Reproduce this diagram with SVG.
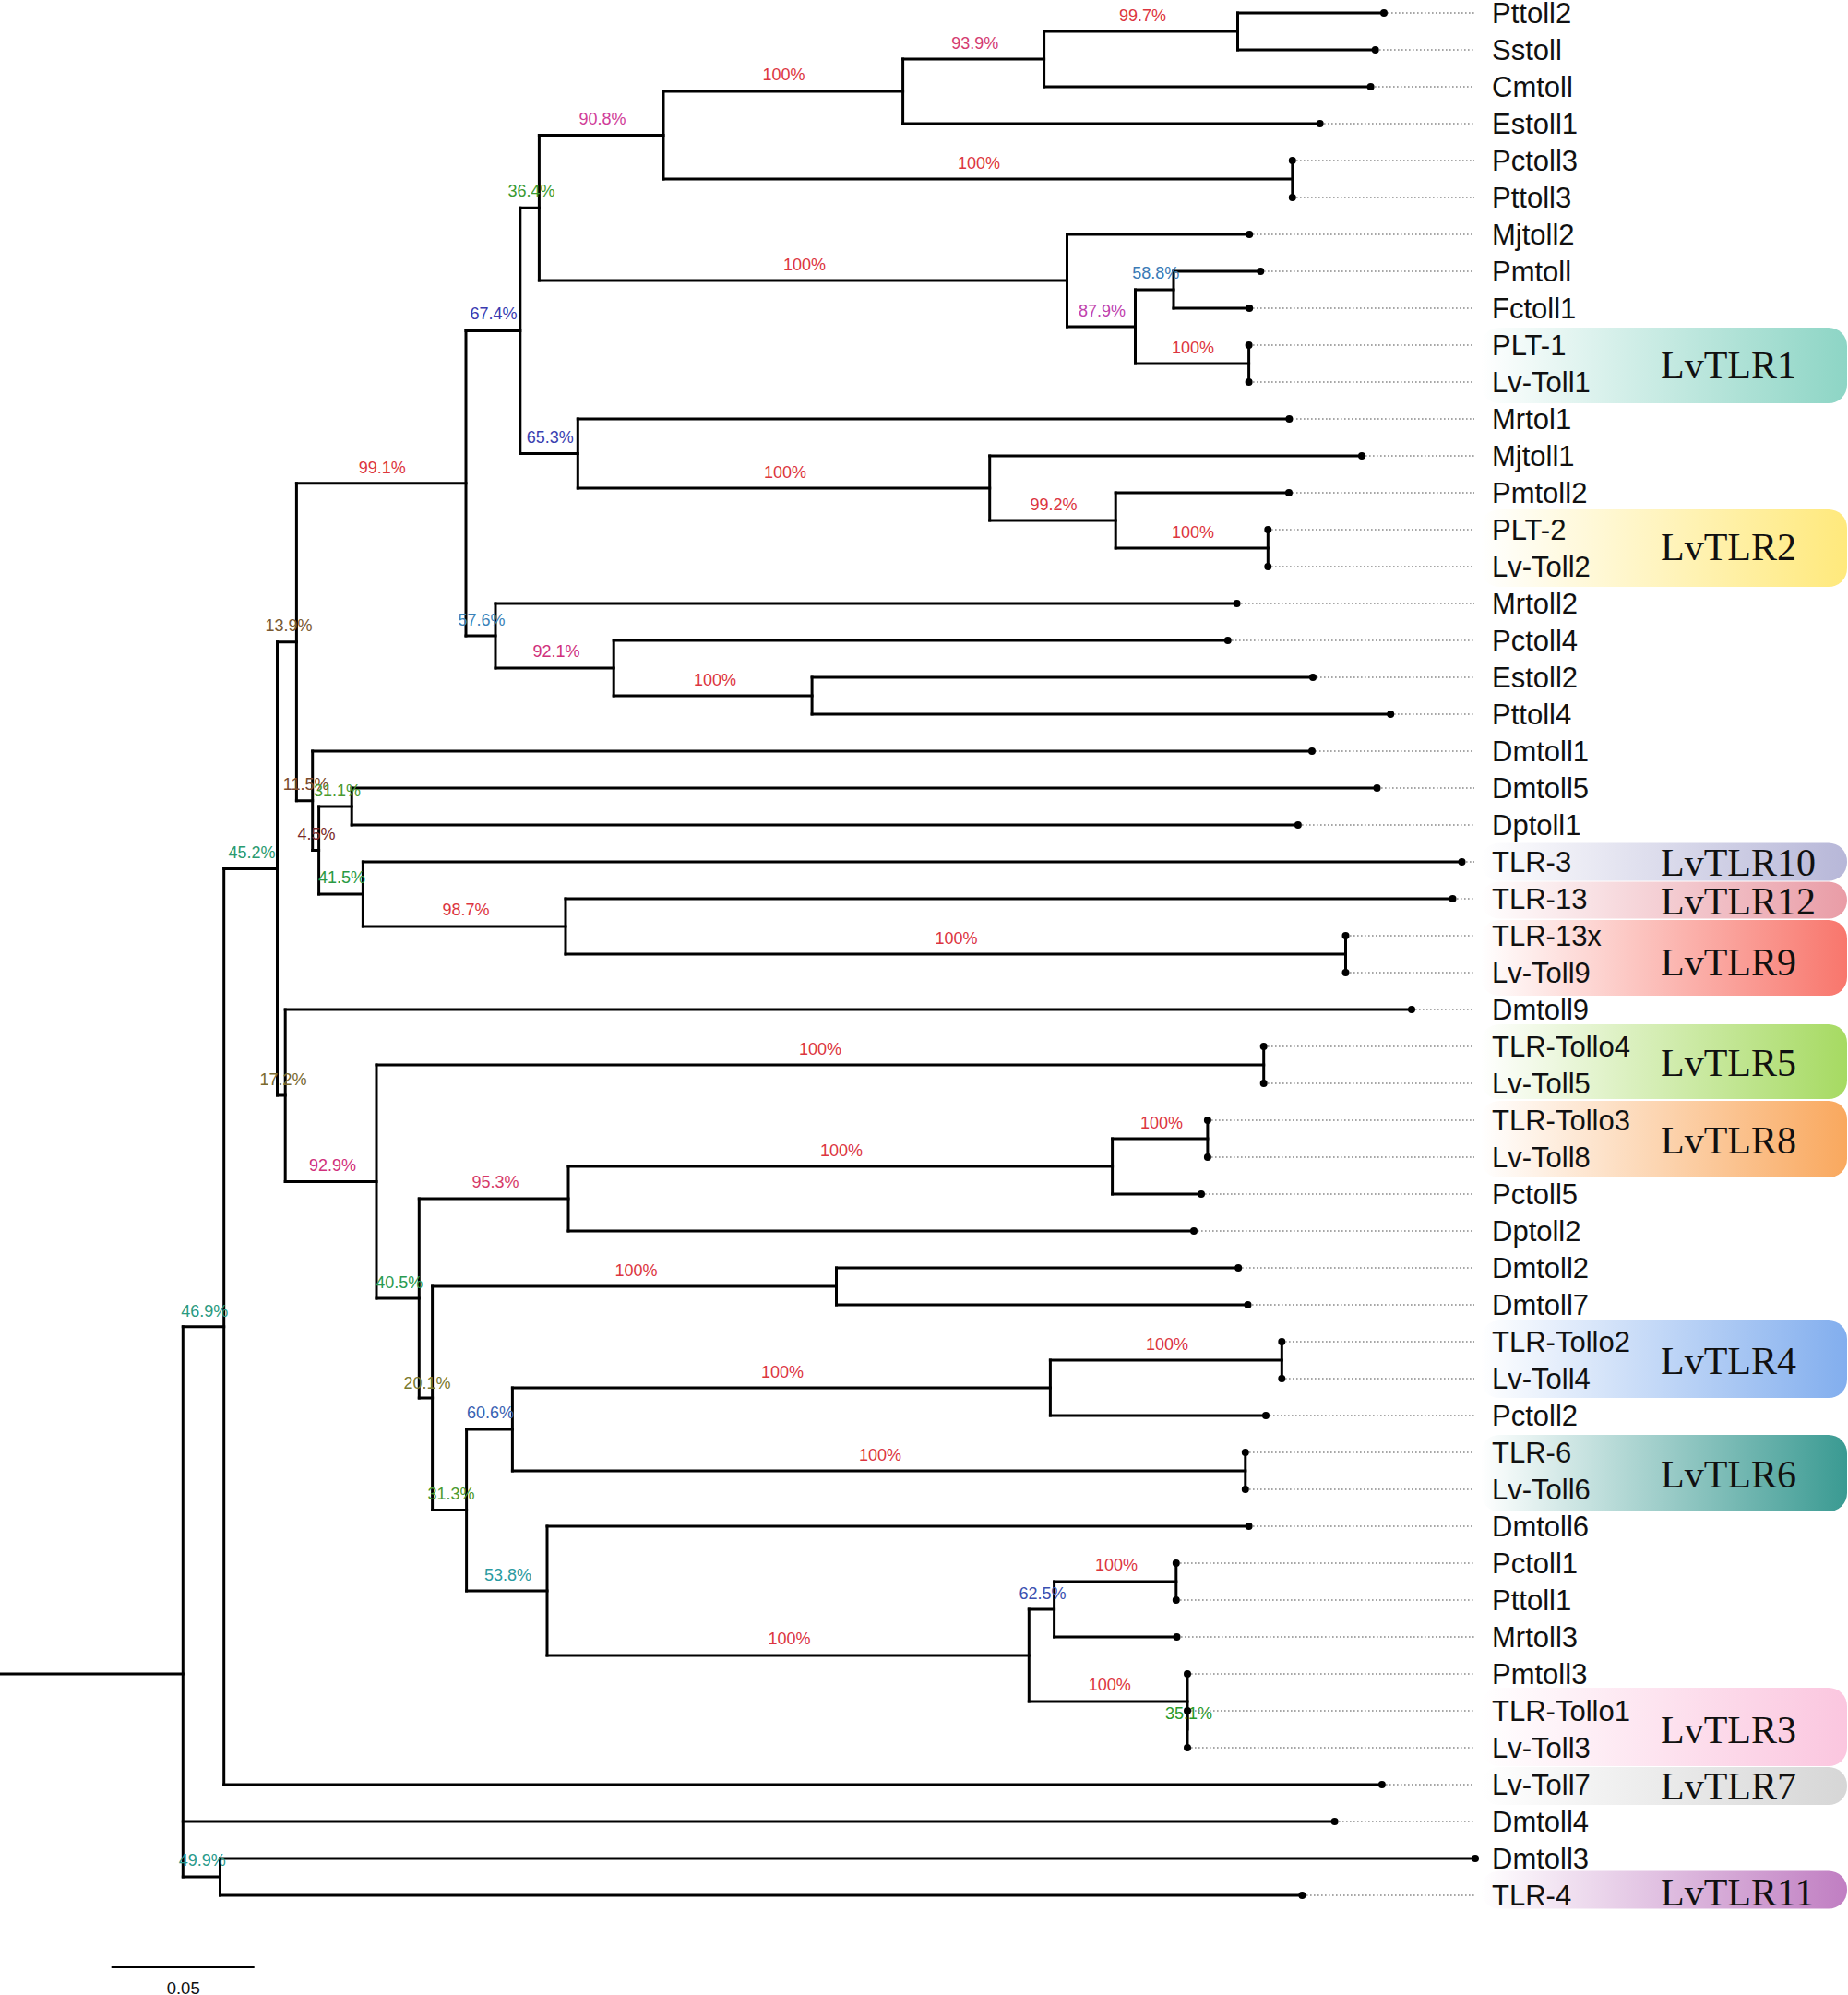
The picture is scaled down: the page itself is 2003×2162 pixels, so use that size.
<svg xmlns="http://www.w3.org/2000/svg" width="2003" height="2162" viewBox="0 0 2003 2162">
<defs>
<style>
.br{fill:none;stroke:#000;stroke-width:3;stroke-linecap:square}
.vt{fill:none;stroke:#000;stroke-width:3;stroke-linecap:square}
.ld{fill:none;stroke:#8a8a8a;stroke-width:1.5;stroke-dasharray:1.6 2.4}
.dot{fill:#000}
.lf{font-family:"Liberation Sans",Arial,sans-serif;font-size:31px;fill:#111}
.sp{font-family:"Liberation Sans",Arial,sans-serif;font-size:18px;text-anchor:middle}
.cl{font-family:"Liberation Serif","Times New Roman",serif;font-size:42px;fill:#111}
.red{fill:#dc3540}
</style>
<linearGradient id="g1" x1="0" x2="1" y1="0" y2="0"><stop offset="0" stop-color="#8dd5c5" stop-opacity="0"/><stop offset="1" stop-color="#8dd5c5"/></linearGradient>
<linearGradient id="g2" x1="0" x2="1" y1="0" y2="0"><stop offset="0" stop-color="#ffe97c" stop-opacity="0"/><stop offset="1" stop-color="#ffe97c"/></linearGradient>
<linearGradient id="g10" x1="0" x2="1" y1="0" y2="0"><stop offset="0" stop-color="#b7b7d8" stop-opacity="0"/><stop offset="1" stop-color="#b7b7d8"/></linearGradient>
<linearGradient id="g12" x1="0" x2="1" y1="0" y2="0"><stop offset="0" stop-color="#e99ca6" stop-opacity="0"/><stop offset="1" stop-color="#e99ca6"/></linearGradient>
<linearGradient id="g9" x1="0" x2="1" y1="0" y2="0"><stop offset="0" stop-color="#f8766c" stop-opacity="0"/><stop offset="1" stop-color="#f8766c"/></linearGradient>
<linearGradient id="g5" x1="0" x2="1" y1="0" y2="0"><stop offset="0" stop-color="#a6da62" stop-opacity="0"/><stop offset="1" stop-color="#a6da62"/></linearGradient>
<linearGradient id="g8" x1="0" x2="1" y1="0" y2="0"><stop offset="0" stop-color="#f9a85e" stop-opacity="0"/><stop offset="1" stop-color="#f9a85e"/></linearGradient>
<linearGradient id="g4" x1="0" x2="1" y1="0" y2="0"><stop offset="0" stop-color="#82aeee" stop-opacity="0"/><stop offset="1" stop-color="#82aeee"/></linearGradient>
<linearGradient id="g6" x1="0" x2="1" y1="0" y2="0"><stop offset="0" stop-color="#3a9a92" stop-opacity="0"/><stop offset="1" stop-color="#3a9a92"/></linearGradient>
<linearGradient id="g3" x1="0" x2="1" y1="0" y2="0"><stop offset="0" stop-color="#fbc6df" stop-opacity="0"/><stop offset="1" stop-color="#fbc6df"/></linearGradient>
<linearGradient id="g7" x1="0" x2="1" y1="0" y2="0"><stop offset="0" stop-color="#d6d6d6" stop-opacity="0"/><stop offset="1" stop-color="#d6d6d6"/></linearGradient>
<linearGradient id="g11" x1="0" x2="1" y1="0" y2="0"><stop offset="0" stop-color="#c07ec2" stop-opacity="0"/><stop offset="1" stop-color="#c07ec2"/></linearGradient>
</defs>
<rect x="0" y="0" width="2003" height="2162" fill="#fff"/>

<g id="clades">
<g id="clade-LvTLR1"><rect x="1605" y="355" width="397" height="82" rx="20" fill="url(#g1)"/><text class="cl" x="1800" y="410">LvTLR1</text></g>
<g id="clade-LvTLR2"><rect x="1605" y="552" width="397" height="84" rx="20" fill="url(#g2)"/><text class="cl" x="1800" y="607">LvTLR2</text></g>
<g id="clade-LvTLR10"><rect x="1605" y="913.5" width="397" height="41" rx="20" fill="url(#g10)"/><text class="cl" x="1800" y="949">LvTLR10</text></g>
<g id="clade-LvTLR12"><rect x="1605" y="955.5" width="397" height="40" rx="20" fill="url(#g12)"/><text class="cl" x="1800" y="991">LvTLR12</text></g>
<g id="clade-LvTLR9"><rect x="1605" y="997" width="397" height="82" rx="20" fill="url(#g9)"/><text class="cl" x="1800" y="1057">LvTLR9</text></g>
<g id="clade-LvTLR5"><rect x="1605" y="1110" width="397" height="81" rx="20" fill="url(#g5)"/><text class="cl" x="1800" y="1166">LvTLR5</text></g>
<g id="clade-LvTLR8"><rect x="1605" y="1193" width="397" height="83" rx="20" fill="url(#g8)"/><text class="cl" x="1800" y="1250">LvTLR8</text></g>
<g id="clade-LvTLR4"><rect x="1605" y="1431" width="397" height="84" rx="20" fill="url(#g4)"/><text class="cl" x="1800" y="1489">LvTLR4</text></g>
<g id="clade-LvTLR6"><rect x="1605" y="1555" width="397" height="83" rx="20" fill="url(#g6)"/><text class="cl" x="1800" y="1612">LvTLR6</text></g>
<g id="clade-LvTLR3"><rect x="1605" y="1829" width="397" height="85" rx="20" fill="url(#g3)"/><text class="cl" x="1800" y="1889">LvTLR3</text></g>
<g id="clade-LvTLR7"><rect x="1605" y="1915" width="397" height="41" rx="20" fill="url(#g7)"/><text class="cl" x="1800" y="1950">LvTLR7</text></g>
<g id="clade-LvTLR11"><rect x="1605" y="2027.5" width="397" height="41" rx="20" fill="url(#g11)"/><text class="cl" x="1800" y="2065">LvTLR11</text></g>
</g>

<g id="connectors">
<path class="br" d="M1,1814 H198.3"/>
<path class="br" d="M198.3,1437.7 H242.7 M198.3,1974 H1446.6 M198.3,2034 H238.5"/>
<path class="br" d="M238.5,2014 H1599 M238.5,2054 H1411.4"/>
<path class="br" d="M242.7,941.4 H300.5 M242.7,1934 H1497.9"/>
<path class="br" d="M300.5,695.7 H321.4 M300.5,1187 H309.2"/>
<path class="br" d="M321.4,523.7 H505 M321.4,867.75 H338.7"/>
<path class="br" d="M505,358.4 H563.8 M505,689 H537"/>
<path class="br" d="M563.8,225.25 H584.4 M563.8,491.5 H626.3"/>
<path class="br" d="M584.4,146.5 H719 M584.4,304 H1156.5"/>
<path class="br" d="M719,99 H978.6 M719,194 H1400.8"/>
<path class="br" d="M978.6,64 H1131.6 M978.6,134 H1430.7"/>
<path class="br" d="M1131.6,34 H1341.5 M1131.6,94 H1485.6"/>
<path class="br" d="M1341.5,14 H1500 M1341.5,54 H1490.7"/>
<path class="br" d="M1156.5,254 H1354.2 M1156.5,354 H1230.5"/>
<path class="br" d="M1230.5,314 H1272 M1230.5,394 H1353.6"/>
<path class="br" d="M1272,294 H1366.3 M1272,334 H1354.2"/>
<path class="br" d="M626.3,454 H1397.4 M626.3,529 H1072.7"/>
<path class="br" d="M1072.7,494 H1476 M1072.7,564 H1209.2"/>
<path class="br" d="M1209.2,534 H1397 M1209.2,594 H1374.3"/>
<path class="br" d="M537,654 H1340.6 M537,724 H665.2"/>
<path class="br" d="M665.2,694 H1330.8 M665.2,754 H880.1"/>
<path class="br" d="M880.1,734 H1423 M880.1,774 H1507.2"/>
<path class="br" d="M338.7,814 H1422 M338.7,921.5 H345.6"/>
<path class="br" d="M345.6,874 H381.2 M345.6,969 H393.4"/>
<path class="br" d="M381.2,854 H1492.5 M381.2,894 H1406.9"/>
<path class="br" d="M393.4,934 H1584.5 M393.4,1004 H613"/>
<path class="br" d="M613,974 H1574.5 M613,1034 H1458.5"/>
<path class="br" d="M309.2,1094 H1530 M309.2,1280.5 H408"/>
<path class="br" d="M408,1154 H1369.7 M408,1407 H454.3"/>
<path class="br" d="M454.3,1299 H616 M454.3,1515 H468.6"/>
<path class="br" d="M616,1264 H1205.6 M616,1334 H1294"/>
<path class="br" d="M1205.6,1234 H1308.9 M1205.6,1294 H1302"/>
<path class="br" d="M468.6,1394 H906.5 M468.6,1636.5 H505.6"/>
<path class="br" d="M906.5,1374 H1342.2 M906.5,1414 H1352.5"/>
<path class="br" d="M505.6,1549 H555.4 M505.6,1724 H593"/>
<path class="br" d="M555.4,1504 H1138.4 M555.4,1594 H1349.8"/>
<path class="br" d="M1138.4,1474 H1389.3 M1138.4,1534 H1372"/>
<path class="br" d="M593,1654 H1353.6 M593,1794 H1115.3"/>
<path class="br" d="M1115.3,1744 H1142.6 M1115.3,1844 H1287"/>
<path class="br" d="M1142.6,1714 H1274.8 M1142.6,1774 H1275.5"/>
</g>

<g id="internal-nodes">
<g id="n-root"><path class="vt" d="M198.3,1437.7 V2034"/></g>
<g id="n-49.9"><path class="vt" d="M238.5,2014 V2054"/><text class="sp" x="219.3" y="2022.4" fill="#2a9a8c">49.9%</text></g>
<g id="n-46.9"><path class="vt" d="M242.7,941.4 V1934"/><text class="sp" x="221.7" y="1426.5" fill="#2a9a80">46.9%</text></g>
<g id="n-45.2"><path class="vt" d="M300.5,695.7 V1187"/><text class="sp" x="273" y="930" fill="#2a9a70">45.2%</text></g>
<g id="n-13.9"><path class="vt" d="M321.4,523.7 V867.75"/><text class="sp" x="313" y="684" fill="#7a5a32">13.9%</text></g>
<g id="n-99.1"><path class="vt" d="M505,358.4 V689"/><text class="sp red" x="414.3" y="512.7">99.1%</text></g>
<g id="n-67.4"><path class="vt" d="M563.8,225.25 V491.5"/><text class="sp" x="535" y="346.3" fill="#3a3ab0">67.4%</text></g>
<g id="n-36.4"><path class="vt" d="M584.4,146.5 V304"/><text class="sp" x="576" y="213.3" fill="#3a9a30">36.4%</text></g>
<g id="n-90.8"><path class="vt" d="M719,99 V194"/><text class="sp" x="653" y="135" fill="#d03c98">90.8%</text></g>
<g id="n-100a"><path class="vt" d="M978.6,64 V134"/><text class="sp red" x="849.5" y="87.3">100%</text></g>
<g id="n-93.9"><path class="vt" d="M1131.6,34 V94"/><text class="sp" x="1056.7" y="52.7" fill="#d43c70">93.9%</text></g>
<g id="n-99.7"><path class="vt" d="M1341.5,14 V54"/><text class="sp red" x="1238.5" y="22.7">99.7%</text></g>
<g id="n-100b"><path class="vt" d="M1400.8,174 V214"/><text class="sp red" x="1061" y="182.7">100%</text></g>
<g id="n-100c"><path class="vt" d="M1156.5,254 V354"/><text class="sp red" x="872" y="292.7">100%</text></g>
<g id="n-87.9"><path class="vt" d="M1230.5,314 V394"/><text class="sp" x="1194.6" y="342.7" fill="#c040ac">87.9%</text></g>
<g id="n-58.8"><path class="vt" d="M1272,294 V334"/><text class="sp" x="1252.7" y="302" fill="#3a7ab6">58.8%</text></g>
<g id="n-100d"><path class="vt" d="M1353.6,374 V414"/><text class="sp red" x="1293" y="382.7">100%</text></g>
<g id="n-65.3"><path class="vt" d="M626.3,454 V529"/><text class="sp" x="596.3" y="480" fill="#3a40b0">65.3%</text></g>
<g id="n-100e"><path class="vt" d="M1072.7,494 V564"/><text class="sp red" x="851" y="518">100%</text></g>
<g id="n-99.2"><path class="vt" d="M1209.2,534 V594"/><text class="sp red" x="1142" y="553.3">99.2%</text></g>
<g id="n-100f"><path class="vt" d="M1374.3,574 V614"/><text class="sp red" x="1293" y="582.7">100%</text></g>
<g id="n-57.6"><path class="vt" d="M537,654 V724"/><text class="sp" x="522" y="677.7" fill="#3a82b8">57.6%</text></g>
<g id="n-92.1"><path class="vt" d="M665.2,694 V754"/><text class="sp" x="603" y="712.3" fill="#d0307c">92.1%</text></g>
<g id="n-100g"><path class="vt" d="M880.1,734 V774"/><text class="sp red" x="775" y="742.7">100%</text></g>
<g id="n-11.5"><path class="vt" d="M338.7,814 V921.5"/><text class="sp" x="331.6" y="856" fill="#7a4a2c">11.5%</text></g>
<g id="n-4.5"><path class="vt" d="M345.6,874 V969"/><text class="sp" x="343" y="910" fill="#7a2a2a">4.5%</text></g>
<g id="n-31.1"><path class="vt" d="M381.2,854 V894"/><text class="sp" x="365.5" y="862.7" fill="#4a9a30">31.1%</text></g>
<g id="n-41.5"><path class="vt" d="M393.4,934 V1004"/><text class="sp" x="370.6" y="957.3" fill="#2a9a44">41.5%</text></g>
<g id="n-98.7"><path class="vt" d="M613,974 V1034"/><text class="sp red" x="505" y="992.3">98.7%</text></g>
<g id="n-100h"><path class="vt" d="M1458.5,1014 V1054"/><text class="sp red" x="1036.6" y="1023">100%</text></g>
<g id="n-17.2"><path class="vt" d="M309.2,1094 V1280.5"/><text class="sp" x="307" y="1175.7" fill="#7a6a30">17.2%</text></g>
<g id="n-92.9"><path class="vt" d="M408,1154 V1407"/><text class="sp" x="360.6" y="1269" fill="#d0307c">92.9%</text></g>
<g id="n-100i"><path class="vt" d="M1369.7,1134 V1174"/><text class="sp red" x="889" y="1143">100%</text></g>
<g id="n-40.5"><path class="vt" d="M454.3,1299 V1515"/><text class="sp" x="432.8" y="1396" fill="#2a9a50">40.5%</text></g>
<g id="n-95.3"><path class="vt" d="M616,1264 V1334"/><text class="sp" x="537" y="1287.3" fill="#d63a68">95.3%</text></g>
<g id="n-100j"><path class="vt" d="M1205.6,1234 V1294"/><text class="sp red" x="912" y="1252.7">100%</text></g>
<g id="n-100k"><path class="vt" d="M1308.9,1214 V1254"/><text class="sp red" x="1259" y="1222.7">100%</text></g>
<g id="n-20.1"><path class="vt" d="M468.6,1394 V1636.5"/><text class="sp" x="463" y="1504.6" fill="#7a7a30">20.1%</text></g>
<g id="n-100l"><path class="vt" d="M906.5,1374 V1414"/><text class="sp red" x="689.5" y="1382.7">100%</text></g>
<g id="n-31.3"><path class="vt" d="M505.6,1549 V1724"/><text class="sp" x="489" y="1625" fill="#4a9a30">31.3%</text></g>
<g id="n-60.6"><path class="vt" d="M555.4,1504 V1594"/><text class="sp" x="531.5" y="1537.3" fill="#3a62b2">60.6%</text></g>
<g id="n-100m"><path class="vt" d="M1138.4,1474 V1534"/><text class="sp red" x="848" y="1492.7">100%</text></g>
<g id="n-100n"><path class="vt" d="M1389.3,1454 V1494"/><text class="sp red" x="1265" y="1462.7">100%</text></g>
<g id="n-100o"><path class="vt" d="M1349.8,1574 V1614"/><text class="sp red" x="954" y="1582.7">100%</text></g>
<g id="n-53.8"><path class="vt" d="M593,1654 V1794"/><text class="sp" x="550.5" y="1712.7" fill="#2a9aa0">53.8%</text></g>
<g id="n-100p"><path class="vt" d="M1115.3,1744 V1844"/><text class="sp red" x="855.6" y="1782.3">100%</text></g>
<g id="n-62.5"><path class="vt" d="M1142.6,1714 V1774"/><text class="sp" x="1130" y="1732.7" fill="#3a50b0">62.5%</text></g>
<g id="n-100q"><path class="vt" d="M1274.8,1694 V1734"/><text class="sp red" x="1210" y="1702.3">100%</text></g>
<g id="n-100r"><path class="vt" d="M1287,1814 V1874"/><text class="sp red" x="1202.7" y="1832.3">100%</text></g>
<g id="n-35.1"><path class="vt" d="M1287,1854 V1894"/><text class="sp" x="1288.5" y="1862.7" fill="#2a9a2a">35.1%</text></g>
</g>

<g id="leaves">
<g id="leaf-Pttoll2"><circle class="dot" cx="1500" cy="14" r="4"/><path class="ld" d="M1504,14 H1598"/><text class="lf" x="1617" y="25">Pttoll2</text></g>
<g id="leaf-Sstoll"><circle class="dot" cx="1490.7" cy="54" r="4"/><path class="ld" d="M1495,54 H1598"/><text class="lf" x="1617" y="65">Sstoll</text></g>
<g id="leaf-Cmtoll"><circle class="dot" cx="1485.6" cy="94" r="4"/><path class="ld" d="M1490,94 H1598"/><text class="lf" x="1617" y="105">Cmtoll</text></g>
<g id="leaf-Estoll1"><circle class="dot" cx="1430.7" cy="134" r="4"/><path class="ld" d="M1435,134 H1598"/><text class="lf" x="1617" y="145">Estoll1</text></g>
<g id="leaf-Pctoll3"><circle class="dot" cx="1400.8" cy="174" r="4"/><path class="ld" d="M1405,174 H1598"/><text class="lf" x="1617" y="185">Pctoll3</text></g>
<g id="leaf-Pttoll3"><circle class="dot" cx="1400.8" cy="214" r="4"/><path class="ld" d="M1405,214 H1598"/><text class="lf" x="1617" y="225">Pttoll3</text></g>
<g id="leaf-Mjtoll2"><circle class="dot" cx="1354.2" cy="254" r="4"/><path class="ld" d="M1358,254 H1598"/><text class="lf" x="1617" y="265">Mjtoll2</text></g>
<g id="leaf-Pmtoll"><circle class="dot" cx="1366.3" cy="294" r="4"/><path class="ld" d="M1370,294 H1598"/><text class="lf" x="1617" y="305">Pmtoll</text></g>
<g id="leaf-Fctoll1"><circle class="dot" cx="1354.2" cy="334" r="4"/><path class="ld" d="M1358,334 H1598"/><text class="lf" x="1617" y="345">Fctoll1</text></g>
<g id="leaf-PLT-1"><circle class="dot" cx="1353.6" cy="374" r="4"/><path class="ld" d="M1358,374 H1598"/><text class="lf" x="1617" y="385">PLT-1</text></g>
<g id="leaf-Lv-Toll1"><circle class="dot" cx="1353.6" cy="414" r="4"/><path class="ld" d="M1358,414 H1598"/><text class="lf" x="1617" y="425">Lv-Toll1</text></g>
<g id="leaf-Mrtol1"><circle class="dot" cx="1397.4" cy="454" r="4"/><path class="ld" d="M1401,454 H1598"/><text class="lf" x="1617" y="465">Mrtol1</text></g>
<g id="leaf-Mjtoll1"><circle class="dot" cx="1476" cy="494" r="4"/><path class="ld" d="M1480,494 H1598"/><text class="lf" x="1617" y="505">Mjtoll1</text></g>
<g id="leaf-Pmtoll2"><circle class="dot" cx="1397" cy="534" r="4"/><path class="ld" d="M1401,534 H1598"/><text class="lf" x="1617" y="545">Pmtoll2</text></g>
<g id="leaf-PLT-2"><circle class="dot" cx="1374.3" cy="574" r="4"/><path class="ld" d="M1378,574 H1598"/><text class="lf" x="1617" y="585">PLT-2</text></g>
<g id="leaf-Lv-Toll2"><circle class="dot" cx="1374.3" cy="614" r="4"/><path class="ld" d="M1378,614 H1598"/><text class="lf" x="1617" y="625">Lv-Toll2</text></g>
<g id="leaf-Mrtoll2"><circle class="dot" cx="1340.6" cy="654" r="4"/><path class="ld" d="M1345,654 H1598"/><text class="lf" x="1617" y="665">Mrtoll2</text></g>
<g id="leaf-Pctoll4"><circle class="dot" cx="1330.8" cy="694" r="4"/><path class="ld" d="M1335,694 H1598"/><text class="lf" x="1617" y="705">Pctoll4</text></g>
<g id="leaf-Estoll2"><circle class="dot" cx="1423" cy="734" r="4"/><path class="ld" d="M1427,734 H1598"/><text class="lf" x="1617" y="745">Estoll2</text></g>
<g id="leaf-Pttoll4"><circle class="dot" cx="1507.2" cy="774" r="4"/><path class="ld" d="M1511,774 H1598"/><text class="lf" x="1617" y="785">Pttoll4</text></g>
<g id="leaf-Dmtoll1"><circle class="dot" cx="1422" cy="814" r="4"/><path class="ld" d="M1426,814 H1598"/><text class="lf" x="1617" y="825">Dmtoll1</text></g>
<g id="leaf-Dmtoll5"><circle class="dot" cx="1492.5" cy="854" r="4"/><path class="ld" d="M1497,854 H1598"/><text class="lf" x="1617" y="865">Dmtoll5</text></g>
<g id="leaf-Dptoll1"><circle class="dot" cx="1406.9" cy="894" r="4"/><path class="ld" d="M1411,894 H1598"/><text class="lf" x="1617" y="905">Dptoll1</text></g>
<g id="leaf-TLR-3"><circle class="dot" cx="1584.5" cy="934" r="4"/><path class="ld" d="M1589,934 H1598"/><text class="lf" x="1617" y="945">TLR-3</text></g>
<g id="leaf-TLR-13"><circle class="dot" cx="1574.5" cy="974" r="4"/><path class="ld" d="M1579,974 H1598"/><text class="lf" x="1617" y="985">TLR-13</text></g>
<g id="leaf-TLR-13x"><circle class="dot" cx="1458.5" cy="1014" r="4"/><path class="ld" d="M1463,1014 H1598"/><text class="lf" x="1617" y="1025">TLR-13x</text></g>
<g id="leaf-Lv-Toll9"><circle class="dot" cx="1458.5" cy="1054" r="4"/><path class="ld" d="M1463,1054 H1598"/><text class="lf" x="1617" y="1065">Lv-Toll9</text></g>
<g id="leaf-Dmtoll9"><circle class="dot" cx="1530" cy="1094" r="4"/><path class="ld" d="M1534,1094 H1598"/><text class="lf" x="1617" y="1105">Dmtoll9</text></g>
<g id="leaf-TLR-Tollo4"><circle class="dot" cx="1369.7" cy="1134" r="4"/><path class="ld" d="M1374,1134 H1598"/><text class="lf" x="1617" y="1145">TLR-Tollo4</text></g>
<g id="leaf-Lv-Toll5"><circle class="dot" cx="1369.7" cy="1174" r="4"/><path class="ld" d="M1374,1174 H1598"/><text class="lf" x="1617" y="1185">Lv-Toll5</text></g>
<g id="leaf-TLR-Tollo3"><circle class="dot" cx="1308.9" cy="1214" r="4"/><path class="ld" d="M1313,1214 H1598"/><text class="lf" x="1617" y="1225">TLR-Tollo3</text></g>
<g id="leaf-Lv-Toll8"><circle class="dot" cx="1308.9" cy="1254" r="4"/><path class="ld" d="M1313,1254 H1598"/><text class="lf" x="1617" y="1265">Lv-Toll8</text></g>
<g id="leaf-Pctoll5"><circle class="dot" cx="1302" cy="1294" r="4"/><path class="ld" d="M1306,1294 H1598"/><text class="lf" x="1617" y="1305">Pctoll5</text></g>
<g id="leaf-Dptoll2"><circle class="dot" cx="1294" cy="1334" r="4"/><path class="ld" d="M1298,1334 H1598"/><text class="lf" x="1617" y="1345">Dptoll2</text></g>
<g id="leaf-Dmtoll2"><circle class="dot" cx="1342.2" cy="1374" r="4"/><path class="ld" d="M1346,1374 H1598"/><text class="lf" x="1617" y="1385">Dmtoll2</text></g>
<g id="leaf-Dmtoll7"><circle class="dot" cx="1352.5" cy="1414" r="4"/><path class="ld" d="M1357,1414 H1598"/><text class="lf" x="1617" y="1425">Dmtoll7</text></g>
<g id="leaf-TLR-Tollo2"><circle class="dot" cx="1389.3" cy="1454" r="4"/><path class="ld" d="M1393,1454 H1598"/><text class="lf" x="1617" y="1465">TLR-Tollo2</text></g>
<g id="leaf-Lv-Toll4"><circle class="dot" cx="1389.3" cy="1494" r="4"/><path class="ld" d="M1393,1494 H1598"/><text class="lf" x="1617" y="1505">Lv-Toll4</text></g>
<g id="leaf-Pctoll2"><circle class="dot" cx="1372" cy="1534" r="4"/><path class="ld" d="M1376,1534 H1598"/><text class="lf" x="1617" y="1545">Pctoll2</text></g>
<g id="leaf-TLR-6"><circle class="dot" cx="1349.8" cy="1574" r="4"/><path class="ld" d="M1354,1574 H1598"/><text class="lf" x="1617" y="1585">TLR-6</text></g>
<g id="leaf-Lv-Toll6"><circle class="dot" cx="1349.8" cy="1614" r="4"/><path class="ld" d="M1354,1614 H1598"/><text class="lf" x="1617" y="1625">Lv-Toll6</text></g>
<g id="leaf-Dmtoll6"><circle class="dot" cx="1353.6" cy="1654" r="4"/><path class="ld" d="M1358,1654 H1598"/><text class="lf" x="1617" y="1665">Dmtoll6</text></g>
<g id="leaf-Pctoll1"><circle class="dot" cx="1274.8" cy="1694" r="4"/><path class="ld" d="M1279,1694 H1598"/><text class="lf" x="1617" y="1705">Pctoll1</text></g>
<g id="leaf-Pttoll1"><circle class="dot" cx="1274.8" cy="1734" r="4"/><path class="ld" d="M1279,1734 H1598"/><text class="lf" x="1617" y="1745">Pttoll1</text></g>
<g id="leaf-Mrtoll3"><circle class="dot" cx="1275.5" cy="1774" r="4"/><path class="ld" d="M1280,1774 H1598"/><text class="lf" x="1617" y="1785">Mrtoll3</text></g>
<g id="leaf-Pmtoll3"><circle class="dot" cx="1287" cy="1814" r="4"/><path class="ld" d="M1291,1814 H1598"/><text class="lf" x="1617" y="1825">Pmtoll3</text></g>
<g id="leaf-TLR-Tollo1"><circle class="dot" cx="1287" cy="1854" r="4"/><path class="ld" d="M1291,1854 H1598"/><text class="lf" x="1617" y="1865">TLR-Tollo1</text></g>
<g id="leaf-Lv-Toll3"><circle class="dot" cx="1287" cy="1894" r="4"/><path class="ld" d="M1291,1894 H1598"/><text class="lf" x="1617" y="1905">Lv-Toll3</text></g>
<g id="leaf-Lv-Toll7"><circle class="dot" cx="1497.9" cy="1934" r="4"/><path class="ld" d="M1502,1934 H1598"/><text class="lf" x="1617" y="1945">Lv-Toll7</text></g>
<g id="leaf-Dmtoll4"><circle class="dot" cx="1446.6" cy="1974" r="4"/><path class="ld" d="M1451,1974 H1598"/><text class="lf" x="1617" y="1985">Dmtoll4</text></g>
<g id="leaf-Dmtoll3"><circle class="dot" cx="1599" cy="2014" r="4"/><text class="lf" x="1617" y="2025">Dmtoll3</text></g>
<g id="leaf-TLR-4"><circle class="dot" cx="1411.4" cy="2054" r="4"/><path class="ld" d="M1416,2054 H1598"/><text class="lf" x="1617" y="2065">TLR-4</text></g>
</g>

<g id="scale-bar">
<path d="M120.7,2132 H275.7" stroke="#000" stroke-width="2" fill="none"/>
<text x="198.7" y="2161" font-family="Liberation Sans, Arial, sans-serif" font-size="18.5" text-anchor="middle" fill="#111">0.05</text>
</g>
</svg>
